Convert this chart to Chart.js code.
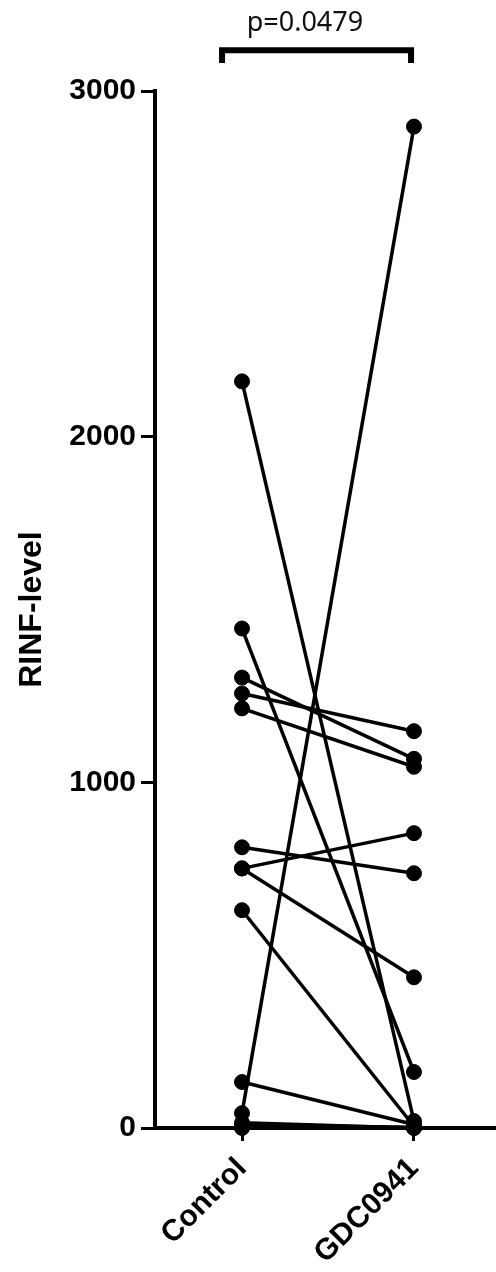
<!DOCTYPE html>
<html>
<head>
<meta charset="utf-8">
<script src="https://cdn.jsdelivr.net/npm/chart.js@4/dist/chart.umd.min.js"></script>
<style>
  html, body { margin: 0; padding: 0; background: #fff; }
  canvas { display: block; }
</style>
</head>
<body>
<canvas id="chart" width="496" height="1272"></canvas>
<script>
// paired values, index i of control goes with index i of gdc
const groups = ['Control', 'GDC0941'];
const controlValues = [2160, 1445, 1303, 1257, 1214, 812, 751, 751, 630, 133, 43, 15, 8, 0];
const gdcValues = [20, 162, 1068, 1148, 1045, 737, 853, 436, 5, 10, 2897, 0, 2, 0];
const yTicks = [0, 1000, 2000, 3000];
const pLabel = 'p=0.0479';

// bracket over the two groups (x in group units, y in axis units)
const bracketFrom = -0.116, bracketTo = 0.983;
const bracketTop = 3118, bracketLeg = 3081;
const pTextX = 0.366, pTextY = 3197;

const axisFont = { family: '"Liberation Sans", Arial, sans-serif', size: 30, weight: 'bold' };

const datasets = controlValues.map((c, i) => ({
  data: [{ x: 0, y: c }, { x: 1, y: gdcValues[i] }],
  showLine: true,
  borderColor: '#000',
  borderWidth: 3.5,
  pointRadius: 7.5,
  pointBorderWidth: 1,
  pointBackgroundColor: '#000',
  pointBorderColor: '#000',
  tension: 0,
  clip: false
}));

const bracketPlugin = {
  id: 'bracket',
  afterDraw(chart) {
    const { ctx, scales: { x, y } } = chart;
    const x1 = x.getPixelForValue(bracketFrom);
    const x2 = x.getPixelForValue(bracketTo);
    const top = y.getPixelForValue(bracketTop);
    const leg = y.getPixelForValue(bracketLeg);
    ctx.save();
    ctx.strokeStyle = '#000';
    ctx.lineWidth = 6;
    ctx.lineJoin = 'miter';
    ctx.beginPath();
    ctx.moveTo(x1, leg);
    ctx.lineTo(x1, top);
    ctx.lineTo(x2, top);
    ctx.lineTo(x2, leg);
    ctx.stroke();
    ctx.font = '27px "Noto Sans", sans-serif';
    ctx.fillStyle = '#111';
    ctx.textAlign = 'center';
    ctx.textBaseline = 'middle';
    ctx.fillText(pLabel, x.getPixelForValue(pTextX), y.getPixelForValue(pTextY));
    ctx.restore();
  }
};

new Chart(document.getElementById('chart'), {
  type: 'scatter',
  data: { datasets },
  plugins: [bracketPlugin],
  options: {
    responsive: false,
    animation: false,
    layout: { autoPadding: false, padding: { top: 91, right: 0, bottom: 0, left: 0 } },
    plugins: { legend: { display: false }, tooltip: { enabled: false } },
    scales: {
      x: {
        type: 'linear',
        min: -0.506,
        max: 1.477,
        afterBuildTicks: s => { s.ticks = [{ value: 0 }, { value: 1 }]; },
        afterFit: s => { s.height = 144; s.paddingRight = 0; s.paddingLeft = 0; },
        border: { display: true, color: '#000', width: 4 },
        grid: { drawOnChartArea: false, drawTicks: true, tickLength: 13, color: '#000', lineWidth: 3 },
        ticks: {
          autoSkip: false,
          minRotation: 45,
          maxRotation: 45,
          padding: 10,
          color: '#000',
          font: axisFont,
          callback: v => groups[v]
        }
      },
      y: {
        min: 0,
        max: 3000,
        afterBuildTicks: s => { s.ticks = yTicks.map(v => ({ value: v })); },
        afterFit: s => { s.width = 155; },
        border: { display: true, color: '#000', width: 4 },
        grid: { drawOnChartArea: false, drawTicks: true, tickLength: 14, color: '#000', lineWidth: 3 },
        ticks: { padding: 5, color: '#000', font: axisFont, callback: v => String(v) },
        title: {
          display: true,
          text: 'RINF-level',
          color: '#000',
          font: { family: '"Liberation Sans", Arial, sans-serif', size: 32, weight: 'bold' },
          padding: { top: 13, bottom: 0 }
        }
      }
    }
  }
});
</script>
</body>
</html>
